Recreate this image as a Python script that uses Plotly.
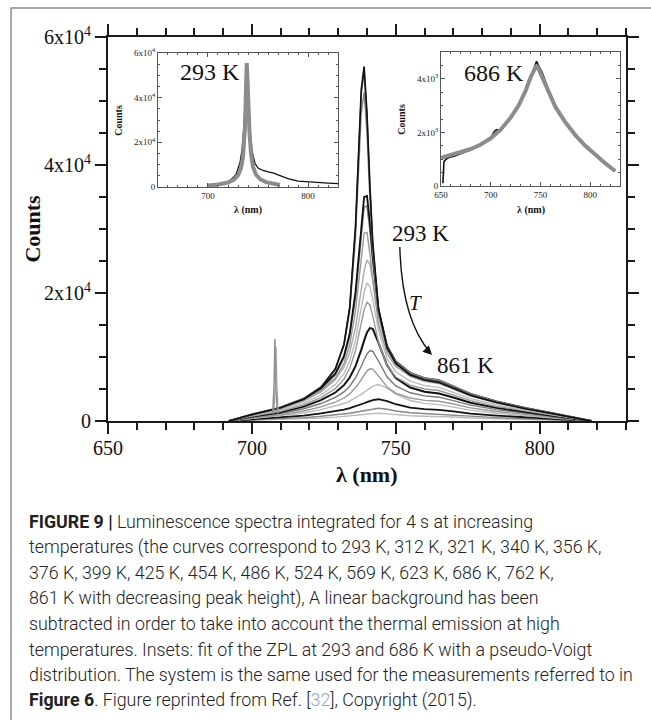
import plotly.graph_objects as go

# ---------------- data ----------------
wavelength = [692, 700, 710, 718, 724, 729, 732, 734, 736, 737, 738, 739, 740, 741, 742,
              744, 747, 750, 755, 760, 765, 770, 776, 785, 795, 805, 818]

temps = [293, 312, 321, 340, 356, 376, 399, 425, 454, 486, 524, 569, 623, 686, 762, 861]

c293 = [0, 1000, 2100, 3400, 5200, 8100, 12000, 17800, 30400, 40900, 51800, 55400, 48100, 36900, 27900, 17500, 11400, 9000, 7200, 6400, 6000, 5100, 4000, 2900, 1900, 1100, 0]
c312 = [0, 1000, 2100, 3500, 5300, 8200, 12000, 17700, 30100, 40300, 51100, 54600, 47500, 36500, 27600, 17500, 11500, 9100, 7300, 6500, 6200, 5300, 4100, 2950, 1970, 1140, 0]
c321 = [0, 1060, 2150, 3560, 5350, 8090, 11770, 17090, 28570, 38140, 48110, 51400, 44790, 34640, 26430, 17030, 11460, 9200, 7520, 6710, 6370, 5470, 4250, 3060, 2050, 1190, 0]
c340 = [0, 1040, 2100, 3470, 5130, 7440, 10170, 13680, 20150, 25100, 30760, 35000, 35150, 31100, 25720, 17440, 11690, 9310, 7540, 6710, 6370, 5460, 4250, 3060, 2040, 1180, 0]
c356 = [0, 1020, 2060, 3390, 5000, 7230, 9840, 13180, 19340, 24040, 29410, 33450, 33590, 29750, 24650, 16790, 11340, 9070, 7380, 6590, 6260, 5370, 4180, 3010, 2010, 1160, 0]
c376 = [0, 970, 1960, 3210, 4710, 6720, 9010, 11910, 17220, 21260, 25870, 29340, 29480, 26200, 21850, 15140, 10460, 8500, 7020, 6310, 6020, 5170, 4030, 2900, 1940, 1120, 0]
c399 = [0, 940, 1900, 3120, 4560, 6430, 8440, 10750, 14580, 17320, 20510, 23480, 25130, 24510, 22100, 16290, 11060, 8700, 6960, 6160, 5840, 5000, 3890, 2800, 1870, 1080, 0]
c425 = [0, 840, 1700, 2780, 4060, 5690, 7410, 9380, 12630, 14940, 17640, 20150, 21550, 21030, 19010, 14110, 9700, 7700, 6220, 5530, 5250, 4500, 3500, 2520, 1680, 970, 0]
c454 = [0, 760, 1530, 2500, 3640, 5060, 6550, 8230, 11000, 12960, 15250, 17380, 18560, 18130, 16430, 12300, 8570, 6870, 5600, 5000, 4760, 4090, 3180, 2290, 1530, 880, 0]
c486 = [0, 690, 1380, 2250, 3250, 4450, 5600, 6790, 8560, 9740, 11120, 12550, 13830, 14520, 14390, 12200, 8660, 6700, 5230, 4570, 4300, 3680, 2860, 2050, 1370, 790, 0]
c524 = [0, 580, 1170, 1910, 2730, 3680, 4550, 5440, 6720, 7570, 8560, 9580, 10490, 10980, 10900, 9370, 6870, 5480, 4410, 3920, 3720, 3190, 2480, 1780, 1190, 690, 0]
c569 = [0, 470, 960, 1560, 2210, 2950, 3590, 4240, 5160, 5760, 6460, 7170, 7800, 8150, 8100, 7050, 5320, 4350, 3590, 3220, 3080, 2650, 2060, 1490, 990, 570, 0]
c623 = [0, 390, 780, 1260, 1770, 2310, 2730, 3110, 3570, 3850, 4160, 4480, 4820, 5150, 5440, 5700, 5120, 4190, 3210, 2750, 2560, 2170, 1690, 1210, 800, 470, 0]
c686 = [0, 260, 530, 850, 1190, 1530, 1780, 2000, 2270, 2420, 2600, 2770, 2950, 3120, 3270, 3400, 3100, 2620, 2100, 1850, 1750, 1490, 1160, 840, 560, 320, 0]
c762 = [0, 160, 330, 530, 740, 940, 1090, 1220, 1370, 1460, 1560, 1660, 1760, 1850, 1930, 2000, 1840, 1570, 1290, 1150, 1090, 940, 730, 520, 350, 200, 0]
c861 = [0, 100, 210, 340, 480, 610, 700, 780, 860, 910, 970, 1020, 1070, 1120, 1170, 1200, 1110, 980, 820, 750, 720, 620, 480, 350, 230, 130, 0]

spectra = [c293, c312, c321, c340, c356, c376, c399, c425, c454, c486, c524, c569, c623, c686, c762, c861]

# calibration spike near 708 nm
spike_a_wl = [707.2, 707.7, 708.0, 708.3, 708.8]
spike_a_counts = [1150, 5500, 12800, 5500, 1200]
spike_b_wl = [707.6, 708.1, 708.4, 708.7, 709.2]
spike_b_counts = [1150, 5000, 11600, 5000, 1250]

# inset 293 K: data and pseudo-Voigt fit
inset1_wl = [700, 710, 720, 728, 732, 734, 736, 737, 738, 739, 740, 741, 742, 744, 747, 750, 755, 760, 765, 770, 780, 790, 800, 810, 820, 830]
inset1_counts = [200, 800, 2000, 5500, 11000, 16500, 28000, 38000, 51000, 55000, 46000, 35000, 26000, 16000, 10500, 8500, 7400, 6800, 6300, 5400, 3800, 2600, 2200, 1900, 1700, 1500]
inset1_fit_wl = [700, 710, 720, 726, 730, 733, 735, 736, 737, 738, 738.7, 739.5, 740.5, 741.5, 743, 745, 748, 752, 758, 765, 772]
inset1_fit = [700, 1100, 2000, 3300, 5200, 8500, 13500, 18000, 27000, 45000, 55500, 48000, 34000, 24000, 15000, 9000, 5500, 3500, 2200, 1400, 900]

# inset 686 K: data and pseudo-Voigt fit
inset2_wl = [652, 653, 655, 658, 663, 670, 680, 690, 700, 704, 706, 709, 714, 720, 728, 735, 740, 744, 746, 748, 752, 758, 765, 775, 785, 795, 805, 815, 825]
inset2_counts = [100, 900, 1000, 1060, 1110, 1200, 1350, 1550, 1800, 2050, 2100, 2050, 2300, 2600, 3000, 3500, 4000, 4450, 4650, 4500, 4200, 3600, 3000, 2400, 1900, 1500, 1150, 850, 550]
inset2_fit_wl = [650, 660, 670, 680, 690, 700, 710, 720, 728, 735, 740, 744, 746, 748, 752, 758, 765, 775, 785, 795, 805, 815, 825]
inset2_fit = [1050, 1150, 1250, 1380, 1550, 1780, 2100, 2550, 3000, 3550, 4050, 4400, 4500, 4380, 4050, 3500, 2950, 2380, 1900, 1500, 1150, 850, 560]

main_yticks = [0, 20000, 40000, 60000]
main_yticktext = ["0", "2x10<sup>4</sup>", "4x10<sup>4</sup>", "6x10<sup>4</sup>"]
main_xticks = [650, 700, 750, 800]
inset1_yticks = [0, 20000, 40000, 60000]
inset1_yticktext = ["0", "2x10<sup>4</sup>", "4x10<sup>4</sup>", "6x10<sup>4</sup>"]
inset1_xticks = [700, 800]
inset2_yticks = [0, 2000, 4000]
inset2_yticktext = ["0", "2x10<sup>3</sup>", "4x10<sup>3</sup>"]
inset2_xticks = [650, 700, 750, 800]

caption_lines = [
    "<b>FIGURE 9 |</b> Luminescence spectra integrated for 4 s at increasing",
    "temperatures (the curves correspond to 293 K, 312 K, 321 K, 340 K, 356 K,",
    "376 K, 399 K, 425 K, 454 K, 486 K, 524 K, 569 K, 623 K, 686 K, 762 K,",
    "861 K with decreasing peak height), A linear background has been",
    "subtracted in order to take into account the thermal emission at high",
    "temperatures. Insets: fit of the ZPL at 293 and 686 K with a pseudo-Voigt",
    "distribution. The system is the same used for the measurements referred to in",
    "<b>Figure 6</b>. Figure reprinted from Ref. [<span style='color:#8fa6b8'>32</span>], Copyright (2015).",
]

# ---------------- styling ----------------
line_colors = ["#111111", "#555555", "#888888", "#111111", "#777777", "#999999", "#aaaaaa", "#bbbbbb",
               "#999999", "#111111", "#777777", "#999999", "#bbbbbb", "#111111", "#888888", "#bbbbbb"]
line_widths = [1.6, 1.4, 1.4, 1.8, 1.4, 1.4, 1.4, 1.4, 1.4, 2.0, 1.4, 1.4, 1.4, 1.8, 1.4, 1.4]

W, H = 651, 720
ML, MR, MT, MB = 108, 14, 37, 299
PW, PH = W - ML - MR, H - MT - MB


def px2x(px):
    return (px - ML) / PW


def py2y(py):
    return (H - MB - py) / PH


SERIF = "Liberation Serif"
fig = go.Figure()

for i in reversed(range(len(spectra))):
    fig.add_trace(go.Scatter(x=wavelength, y=spectra[i], mode="lines", name=f"{temps[i]} K",
                             line=dict(color=line_colors[i], width=line_widths[i]),
                             xaxis="x", yaxis="y", showlegend=False, hoverinfo="skip"))

fig.add_trace(go.Scatter(x=spike_a_wl, y=spike_a_counts, mode="lines", line=dict(color="#8a8a8a", width=1.4),
                         showlegend=False, hoverinfo="skip"))
fig.add_trace(go.Scatter(x=spike_b_wl, y=spike_b_counts, mode="lines", line=dict(color="#9a9a9a", width=1.2),
                         showlegend=False, hoverinfo="skip"))

# insets
fig.add_trace(go.Scatter(x=inset1_wl, y=inset1_counts, mode="lines", line=dict(color="#111111", width=1.3),
                         xaxis="x2", yaxis="y2", showlegend=False, hoverinfo="skip"))
fig.add_trace(go.Scatter(x=inset1_fit_wl, y=inset1_fit, mode="lines", line=dict(color="#8c8c8c", width=4),
                         xaxis="x2", yaxis="y2", showlegend=False, hoverinfo="skip"))
fig.add_trace(go.Scatter(x=inset2_wl, y=inset2_counts, mode="lines", line=dict(color="#111111", width=1.6),
                         xaxis="x3", yaxis="y3", showlegend=False, hoverinfo="skip"))
fig.add_trace(go.Scatter(x=inset2_fit_wl, y=inset2_fit, mode="lines", line=dict(color="#8c8c8c", width=4),
                         xaxis="x3", yaxis="y3", showlegend=False, hoverinfo="skip"))

main_axis = dict(showline=True, linecolor="#1a1a1a", linewidth=2, mirror="ticks", ticks="outside",
                 ticklen=11, tickwidth=2, tickcolor="#1a1a1a", showgrid=False, zeroline=False,
                 tickfont=dict(family=SERIF, size=20, color="#111111"))
inset_axis = dict(showline=True, linecolor="#555555", linewidth=1, mirror="ticks", ticks="inside",
                  ticklen=4, tickwidth=1, tickcolor="#555555", showgrid=False, zeroline=False,
                  tickfont=dict(family=SERIF, size=9, color="#222222"))

fig.update_layout(
    width=W, height=H, margin=dict(l=ML, r=MR, t=MT, b=MB),
    paper_bgcolor="white", plot_bgcolor="white", showlegend=False,
    xaxis=dict(main_axis, range=[650, 830], tickvals=main_xticks, ticklabelstandoff=-3,
               minor=dict(dtick=10, ticklen=7, tickwidth=1.5, ticks="outside", tickcolor="#1a1a1a")),
    yaxis=dict(main_axis, range=[0, 60000], tickvals=main_yticks, ticktext=main_yticktext,
               minor=dict(dtick=5000, ticklen=7, tickwidth=1.5, ticks="outside", tickcolor="#1a1a1a")),
    xaxis2=dict(inset_axis, domain=[px2x(159), px2x(343)], anchor="y2", range=[650, 830],
                tickvals=inset1_xticks, minor=dict(dtick=10, ticklen=2, ticks="inside", tickcolor="#555555")),
    yaxis2=dict(inset_axis, domain=[py2y(187), py2y(53)], anchor="x2", range=[0, 60000],
                tickvals=inset1_yticks, ticktext=inset1_yticktext,
                minor=dict(dtick=5000, ticklen=2, ticks="inside", tickcolor="#555555")),
    xaxis3=dict(inset_axis, domain=[px2x(448), px2x(631)], anchor="y3", range=[650, 830],
                tickvals=inset2_xticks, minor=dict(dtick=10, ticklen=2, ticks="inside", tickcolor="#555555")),
    yaxis3=dict(inset_axis, domain=[py2y(186), py2y(52)], anchor="x3", range=[0, 5000],
                tickvals=inset2_yticks, ticktext=inset2_yticktext,
                minor=dict(dtick=500, ticklen=2, ticks="inside", tickcolor="#555555")),
)

ann = []


def text_px(txt, x, y, size, family=SERIF, color="#111111", angle=0, xanchor="center", yanchor="middle",
            weight=None):
    f = dict(family=family, size=size, color=color)
    if weight is not None:
        f["weight"] = weight
    ann.append(dict(text=txt, x=px2x(x), y=py2y(y), xref="paper", yref="paper", showarrow=False,
                    xanchor=xanchor, yanchor=yanchor, textangle=angle, font=f))


text_px("<b>Counts</b>", 30, 229, 22, angle=-90)
text_px("<b>λ (nm)</b>", 372, 474, 22)
text_px("<b>Counts</b>", 118, 120, 10, angle=-90)
text_px("<b>λ (nm)</b>", 251, 210, 10)
text_px("<b>Counts</b>", 408, 119, 10, angle=-90)
text_px("<b>λ (nm)</b>", 540, 210, 10)
text_px("293 K", 212, 72, 24)
text_px("686 K", 502, 73, 24)
text_px("293 K", 427, 233, 23)
text_px("<i>T</i>", 422, 303, 21)
text_px("861 K", 473, 365, 23)

cap_y0, cap_dy = 521, 25.6
for k, line in enumerate(caption_lines):
    text_px(line, 25, cap_y0 + k * cap_dy, 17.8, family="Roboto", color="#222222", xanchor="left", weight=300)

# arrowhead at the end of the curved arrow
ann.append(dict(x=762.6, y=10300, xref="x", yref="y", text="", showarrow=True, ax=-7, ay=-7,
                arrowhead=2, arrowsize=1.3, arrowwidth=1.4, arrowcolor="#111111"))
fig.update_layout(annotations=ann)

shapes = [
    dict(type="path", xref="x", yref="y", path="M 751.4,27190 Q 752.1,15780 762.0,10700",
         line=dict(color="#111111", width=1.4)),
    dict(type="rect", xref="paper", yref="paper", x0=px2x(9), x1=px2x(670), y0=py2y(740), y1=py2y(8),
         line=dict(color="#8a8a8a", width=1.5), fillcolor="rgba(0,0,0,0)", layer="below"),
]
fig.update_layout(shapes=shapes)

fig.write_html("out.html")
